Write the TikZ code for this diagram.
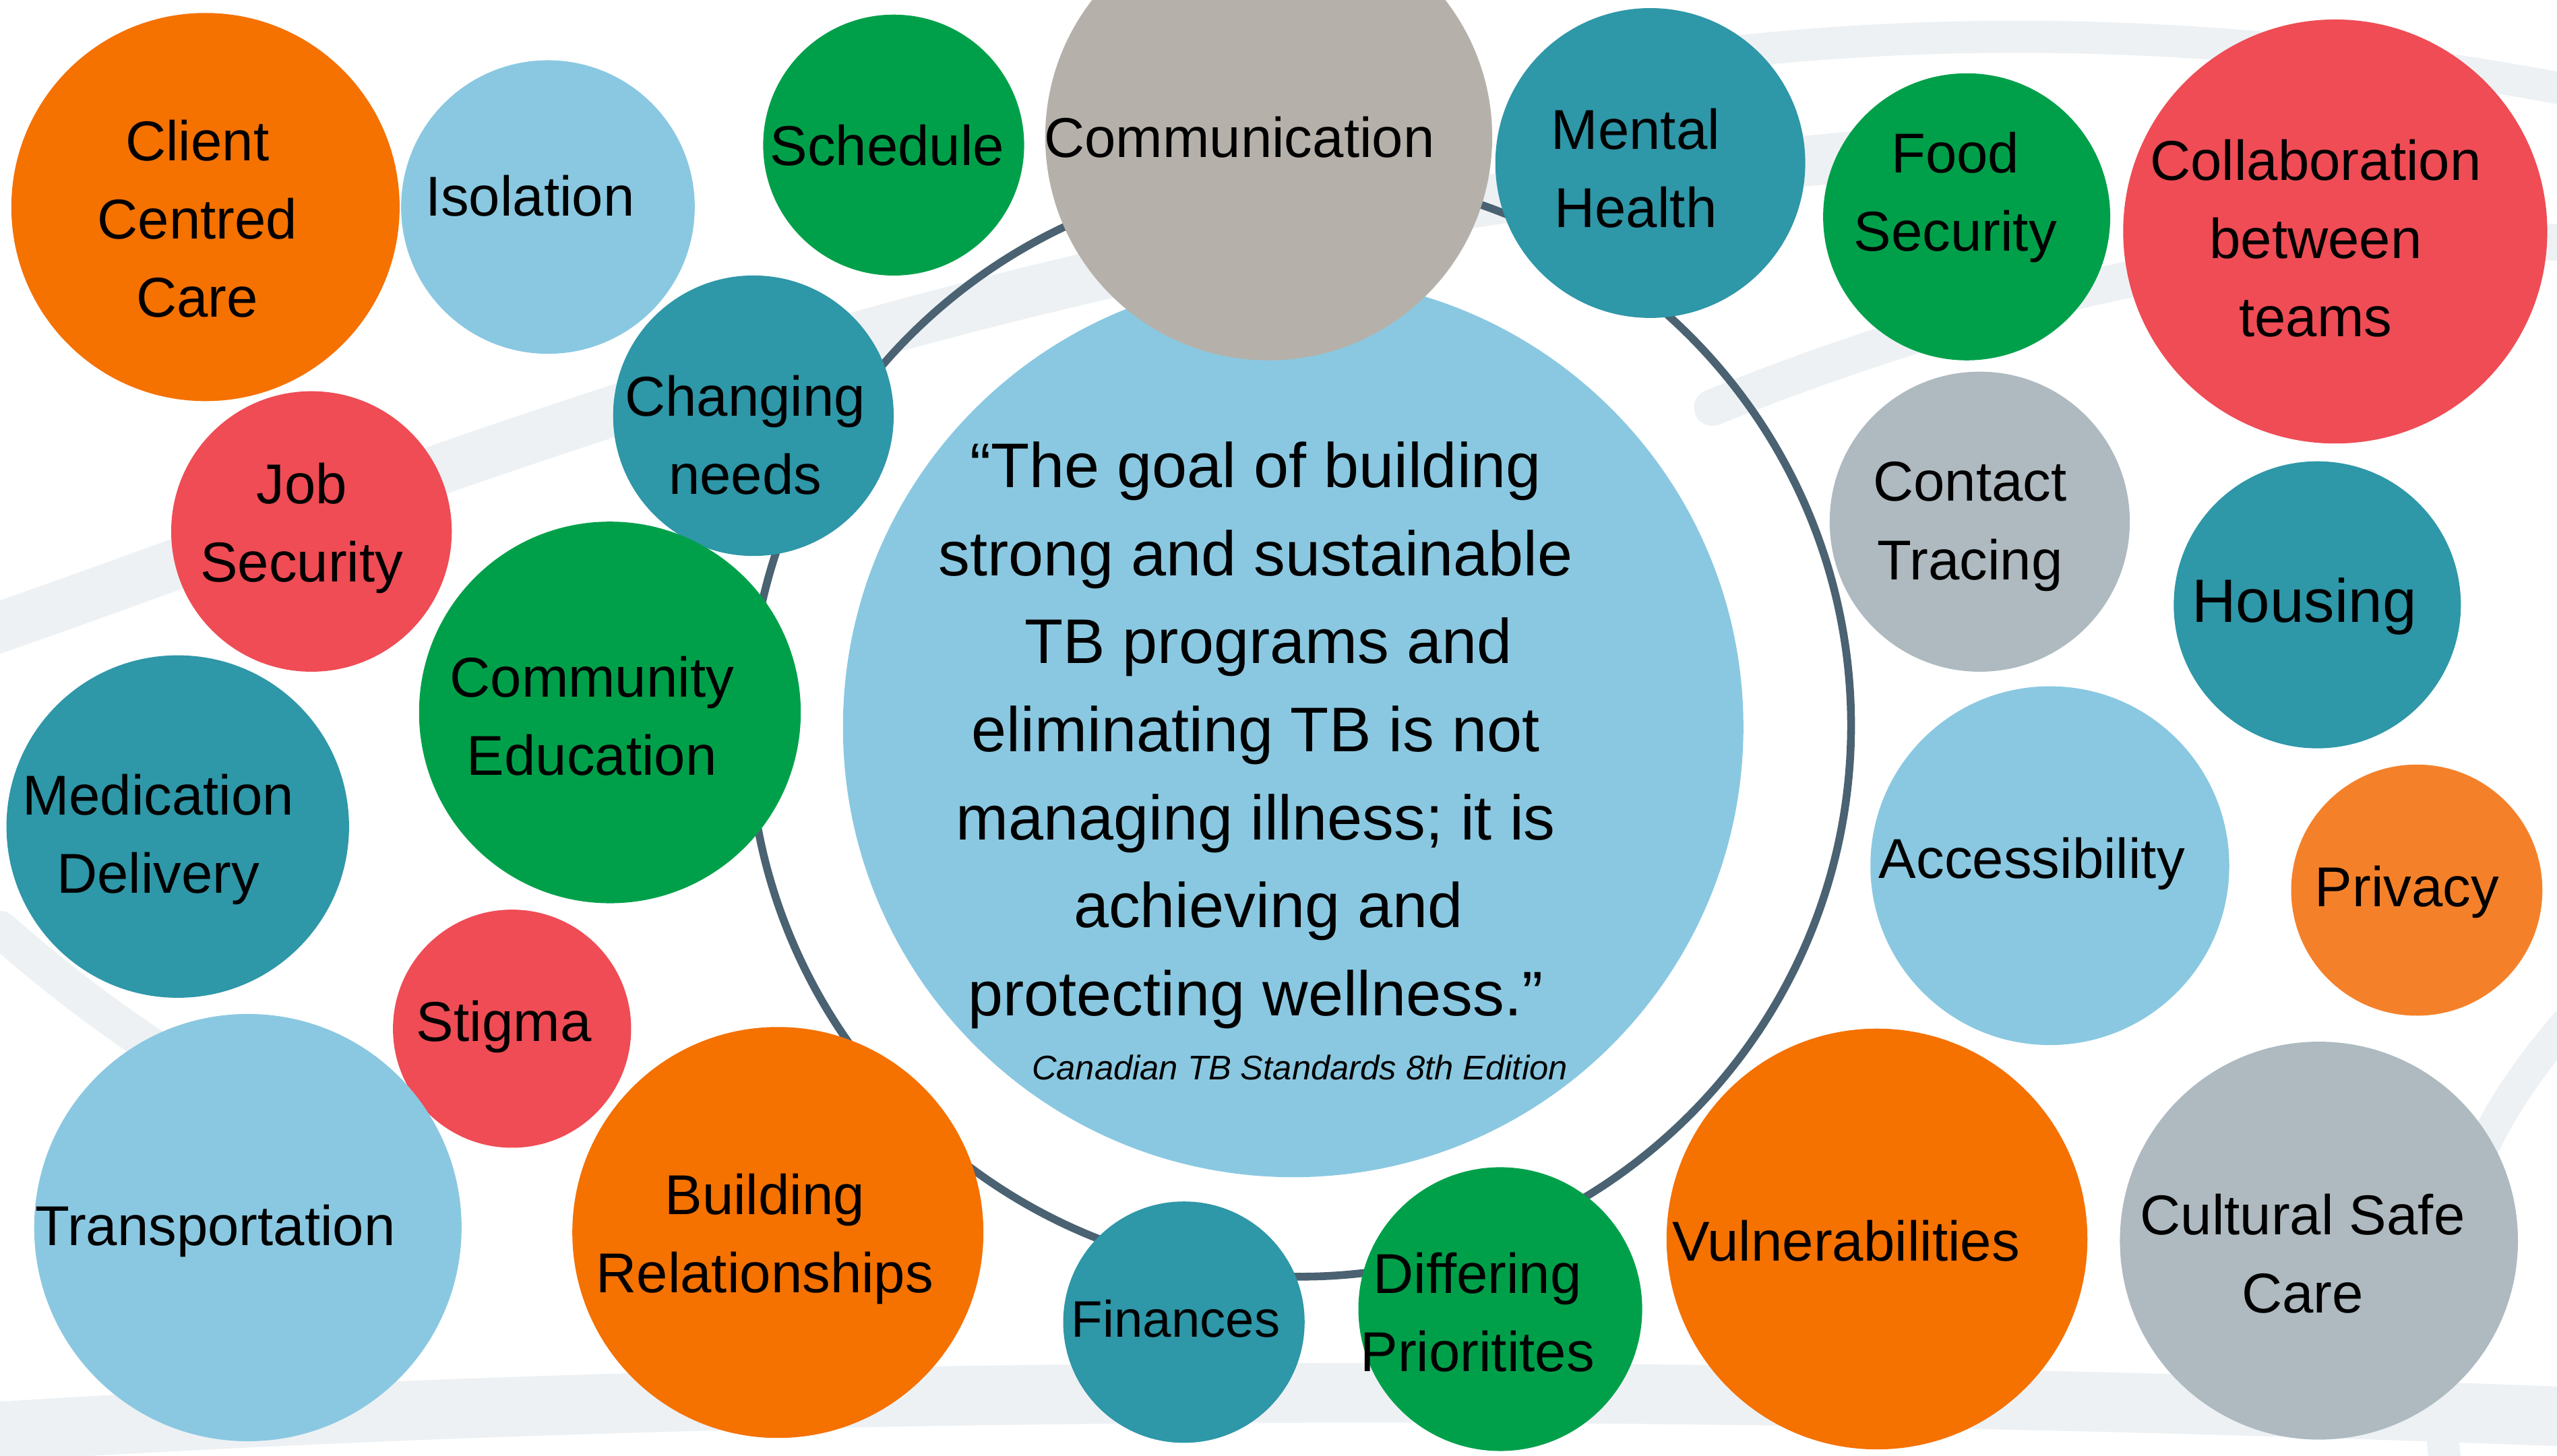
\documentclass[tikz,border=0pt]{standalone}
\usepackage{fontspec}
\setmainfont{Liberation Sans}
\definecolor{cOrange}{HTML}{F57100}
\definecolor{cOrangeLt}{HTML}{F4812A}
\definecolor{cBlue}{HTML}{8AC8E1}
\definecolor{cGreen}{HTML}{00A04A}
\definecolor{cTeal}{HTML}{2E97A8}
\definecolor{cRed}{HTML}{EF4C55}
\definecolor{cBeige}{HTML}{B5B1AA}
\definecolor{cGrey}{HTML}{AEBAC0}
\definecolor{ringC}{HTML}{4A6272}
\definecolor{bgSwoosh}{HTML}{EDF1F4}
\begin{document}
\begin{tikzpicture}[x=0.025cm,y=-0.025cm,
  bubble/.style={circle, inner sep=0pt, minimum size=#1*0.05cm},
  lbl/.style={align=center, text=black, inner sep=0pt,
    font=\fontsize{24.5}{34.1}\selectfont},
  swoosh/.style={draw=bgSwoosh, line width=#1, line cap=round}]
\useasboundingbox (0,0) rectangle (1568,893);
\fill[white] (0,0) rectangle (1568,893);

% faint background swooshes
\draw[swoosh=22pt] (-30,395) .. controls (250,300) and (600,140) .. (1150,95);
\draw[swoosh=16pt] (1050,250) .. controls (1250,170) and (1420,140) .. (1600,150);
\draw[swoosh=14pt] (1000,40) .. controls (1200,10) and (1400,20) .. (1600,60);
\draw[swoosh=26pt] (-30,880) .. controls (500,845) and (1100,850) .. (1600,870);
\draw[swoosh=16pt] (0,570) .. controls (80,640) and (160,690) .. (260,720);
\draw[swoosh=14pt] (1600,600) .. controls (1520,680) and (1480,760) .. (1500,900);

% outer ring
\node[circle, draw=ringC, line width=3.4pt, inner sep=0pt,
  minimum size=338*0.05cm] (ring) at (797,445) {};

% central quote
\node[bubble=276, fill=cBlue] (core) at (793,446) {};
\node[align=center, inner sep=0pt, font=\fontsize{27.5}{38.4}\selectfont]
  (quote) at (770,451) {“The goal of building\\ strong and sustainable\\
  \hspace*{0.4em}TB programs and\\ eliminating TB is not\\
  managing illness; it is\\ \hspace*{0.4em}achieving and\\
  protecting wellness.”};
\node[inner sep=0pt, font=\fontsize{14.9}{18}\selectfont\itshape]
  (source) at (797,655) {Canadian TB Standards 8th Edition};

% surrounding bubbles
\node[bubble=137, fill=cBeige] (comm) at (778,84) {};
\node[lbl] (commT) at (760,84) {Communication};

\node[bubble=119, fill=cOrange] (client) at (126,127) {};
\node[lbl] (clientT) at (121,134) {Client\\ Centred\\ Care};

\node[bubble=90, fill=cBlue] (isol) at (336,127) {};
\node[lbl] (isolT) at (325,120) {Isolation};

\node[bubble=80, fill=cGreen] (sched) at (548,89) {};
\node[lbl] (schedT) at (544,89) {Schedule};

\node[bubble=95, fill=cTeal] (mental) at (1012,100) {};
\node[lbl] (mentalT) at (1003,103) {Mental\\ Health};

\node[bubble=88, fill=cGreen] (food) at (1206,133) {};
\node[lbl] (foodT) at (1199,121) {Food\\ Security};

\node[bubble=130, fill=cRed] (collab) at (1432,142) {};
\node[lbl] (collabT) at (1420,146) {Collaboration\\ between\\ teams};

\node[bubble=86, fill=cTeal] (chg) at (462,255) {};
\node[lbl] (chgT) at (457,267) {Changing\\ needs};

\node[bubble=92, fill=cGrey] (contact) at (1214,320) {};
\node[lbl] (contactT) at (1208,323) {Contact\\ Tracing};

\node[bubble=88, fill=cTeal] (housing) at (1421,371) {};
\node[lbl, font=\fontsize{26.7}{34}\selectfont] (housingT) at (1413,372) {Housing};

\node[bubble=86, fill=cRed] (job) at (191,326) {};
\node[lbl] (jobT) at (185,324) {Job\\ Security};

\node[bubble=117, fill=cGreen] (commu) at (374,437) {};
\node[lbl] (commuT) at (363,439) {Community\\ Education};

\node[bubble=105, fill=cTeal] (med) at (109,507) {};
\node[lbl] (medT) at (97,515) {Medication\\ Delivery};

\node[bubble=110, fill=cBlue] (access) at (1257,531) {};
\node[lbl] (accessT) at (1246,530) {Accessibility};

\node[bubble=77, fill=cOrangeLt] (priv) at (1482,546) {};
\node[lbl] (privT) at (1476,547) {Privacy};

\node[bubble=73, fill=cRed] (stig) at (314,631) {};
\node[lbl] (stigT) at (309,630) {Stigma};

\node[bubble=131, fill=cBlue] (trans) at (152,753) {};
\node[lbl] (transT) at (132,755) {Transportation};

\node[bubble=126, fill=cOrange] (build) at (477,756) {};
\node[lbl] (buildT) at (469,760) {Building\\ Relationships};

\node[bubble=74, fill=cTeal] (fin) at (726,811) {};
\node[lbl, font=\fontsize{22.4}{30}\selectfont] (finT) at (721,809) {Finances};

\node[bubble=87, fill=cGreen] (diff) at (920,803) {};
\node[lbl] (diffT) at (906,805) {Differing\\ Prioritites};

\node[bubble=129, fill=cOrange] (vuln) at (1151,760) {};
\node[lbl] (vulnT) at (1132,761) {Vulnerabilities};

\node[bubble=122, fill=cGrey] (cult) at (1422,761) {};
\node[lbl] (cultT) at (1412,769) {Cultural Safe\\ Care};
\end{tikzpicture}
\end{document}
